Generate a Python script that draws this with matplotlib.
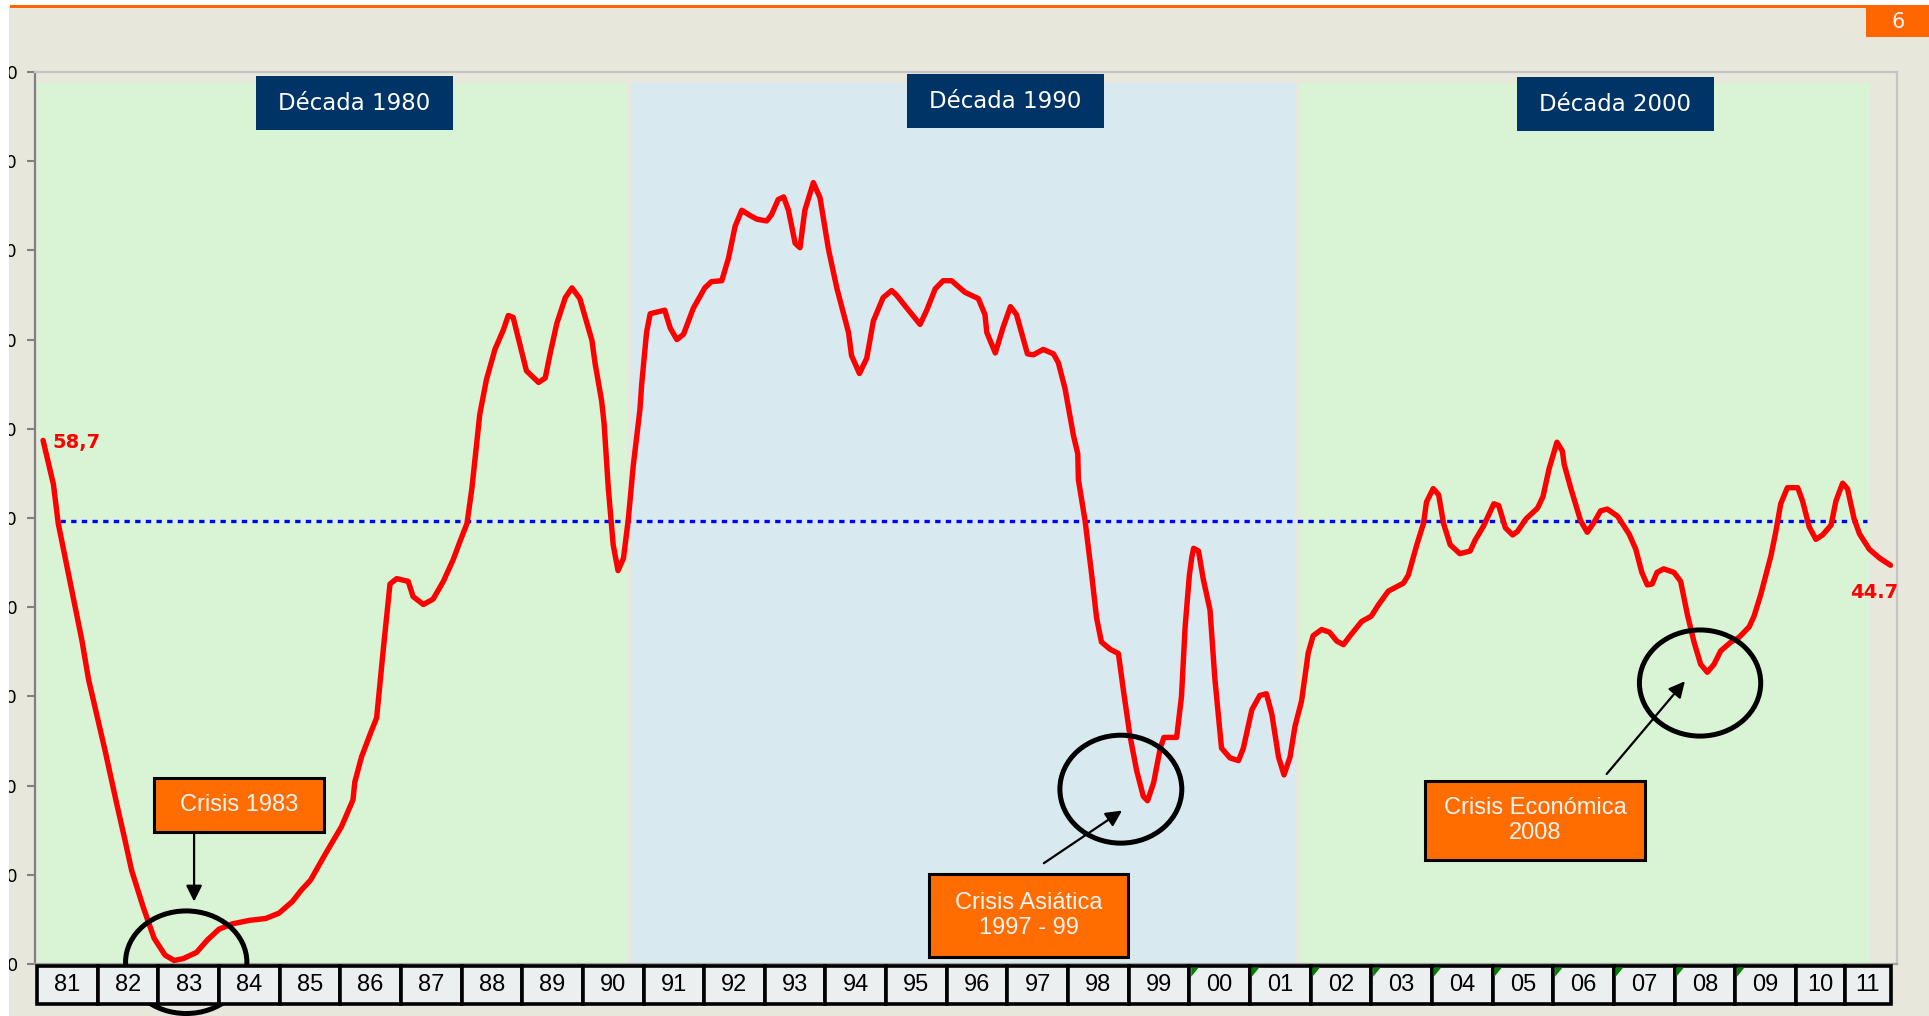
import matplotlib
matplotlib.use('Agg')
import matplotlib.pyplot as plt
from matplotlib.patches import Rectangle, Ellipse, Polygon
from matplotlib.transforms import blended_transform_factory

# index (x = position in years, y = index value)
t = [1981.10, 1981.27, 1981.35, 1981.74, 1981.85, 1982.12, 1982.30, 1982.45, 1982.56, 1982.75,
     1982.93, 1983.11, 1983.26, 1983.41, 1983.63, 1983.81, 1984.00, 1984.22, 1984.51, 1984.77,
     1984.99, 1985.21, 1985.36, 1985.51, 1985.76, 1986.02, 1986.21, 1986.24, 1986.35, 1986.50,
     1986.60, 1986.71, 1986.82, 1986.93, 1987.12, 1987.20, 1987.37, 1987.53, 1987.70, 1987.86,
     1987.97, 1988.09, 1988.17, 1988.30, 1988.41, 1988.55, 1988.69, 1988.77, 1988.85, 1989.07,
     1989.27, 1989.38, 1989.46, 1989.57, 1989.71, 1989.82, 1989.95, 1990.15, 1990.20, 1990.31,
     1990.35, 1990.42, 1990.50, 1990.58, 1990.67, 1990.75, 1990.83, 1990.94, 1990.97, 1991.05,
     1991.11, 1991.35, 1991.44, 1991.55, 1991.66, 1991.82, 1992.01, 1992.12, 1992.29, 1992.40,
     1992.51, 1992.62, 1992.76, 1992.87, 1993.03, 1993.11, 1993.22, 1993.31, 1993.39, 1993.50,
     1993.58, 1993.66, 1993.80, 1993.91, 1994.05, 1994.19, 1994.38, 1994.43, 1994.56, 1994.68,
     1994.79, 1994.95, 1995.09, 1995.17, 1995.31, 1995.56, 1995.67, 1995.81, 1995.94, 1996.08,
     1996.30, 1996.52, 1996.63, 1996.66, 1996.80, 1996.93, 1997.05, 1997.15, 1997.33, 1997.43,
     1997.59, 1997.76, 1997.84, 1997.95, 1998.09, 1998.16, 1998.17, 1998.28, 1998.39, 1998.47,
     1998.55, 1998.69, 1998.83, 1998.91, 1999.02, 1999.13, 1999.24, 1999.31, 1999.41, 1999.52,
     1999.58, 1999.79, 1999.82, 1999.87, 1999.93, 2000.00, 2000.04, 2000.07, 2000.15, 2000.23,
     2000.34, 2000.42, 2000.53, 2000.67, 2000.81, 2000.89, 2001.03, 2001.16, 2001.27, 2001.36,
     2001.47, 2001.56, 2001.66, 2001.74, 2001.85, 2001.96, 2002.04, 2002.18, 2002.31, 2002.43,
     2002.54, 2002.65, 2002.84, 2003.00, 2003.11, 2003.28, 2003.53, 2003.61, 2003.75, 2003.86,
     2003.91, 2004.02, 2004.11, 2004.19, 2004.30, 2004.46, 2004.63, 2004.71, 2004.85, 2005.02,
     2005.10, 2005.21, 2005.33, 2005.41, 2005.55, 2005.74, 2005.83, 2005.93, 2006.06, 2006.15,
     2006.18, 2006.29, 2006.45, 2006.56, 2006.67, 2006.78, 2006.89, 2007.06, 2007.25, 2007.36,
     2007.46, 2007.55, 2007.63, 2007.71, 2007.82, 2007.99, 2008.10, 2008.21, 2008.32, 2008.43,
     2008.54, 2008.65, 2008.76, 2008.93, 2009.06, 2009.23, 2009.31, 2009.42, 2009.59, 2009.67,
     2009.75, 2009.86, 2010.03, 2010.11, 2010.22, 2010.33, 2010.44, 2010.58, 2010.66, 2010.77,
     2010.85, 2010.96, 2011.05, 2011.21, 2011.38, 2011.56]
v = [58.7, 53.8, 49.4, 36.3, 31.9, 24.0, 18.4, 13.9, 10.5, 6.4,
     2.9, 1.0, 0.4, 0.6, 1.3, 2.7, 3.9, 4.5, 4.9, 5.1,
     5.7, 7.0, 8.3, 9.4, 12.4, 15.4, 18.4, 20.4, 23.2, 25.9,
     27.6, 35.3, 42.6, 43.2, 42.9, 41.2, 40.3, 40.9, 42.9, 45.3,
     47.3, 49.4, 53.3, 61.6, 65.5, 68.9, 71.1, 72.7, 72.5, 66.5,
     65.2, 65.7, 68.4, 71.8, 74.7, 75.8, 74.6, 69.9, 67.4, 63.1,
     60.6, 53.3, 47.0, 44.1, 45.5, 49.9, 55.8, 62.1, 65.0, 70.8,
     72.9, 73.3, 71.3, 70.0, 70.6, 73.5, 75.8, 76.5, 76.6, 79.1,
     82.7, 84.5, 83.9, 83.5, 83.3, 84.0, 85.7, 86.0, 84.5, 80.8,
     80.3, 84.5, 87.6, 85.9, 80.1, 75.7, 70.8, 68.2, 66.2, 67.9,
     72.1, 74.7, 75.5, 75.0, 73.8, 71.7, 73.3, 75.7, 76.6, 76.6,
     75.3, 74.6, 72.8, 70.8, 68.5, 71.4, 73.7, 72.8, 68.4, 68.3,
     68.9, 68.4, 67.4, 64.5, 59.2, 57.2, 54.3, 49.7, 43.6, 38.8,
     36.1, 35.3, 34.8, 30.8, 25.6, 21.7, 18.8, 18.3, 20.3, 24.2,
     25.4, 25.4, 27.1, 30.0, 37.8, 43.6, 45.6, 46.6, 46.3, 43.1,
     39.7, 32.0, 24.2, 23.1, 22.8, 24.2, 28.5, 30.1, 30.3, 28.0,
     23.2, 21.2, 23.2, 26.6, 29.5, 34.9, 36.8, 37.5, 37.2, 36.2,
     35.8, 36.8, 38.4, 39.0, 40.2, 41.8, 42.7, 43.6, 47.0, 49.4,
     51.8, 53.3, 52.6, 49.4, 47.0, 46.0, 46.3, 47.5, 49.1, 51.6,
     51.4, 48.9, 48.1, 48.5, 49.9, 51.1, 52.4, 55.5, 58.5, 57.5,
     56.0, 53.3, 49.7, 48.4, 49.5, 50.8, 51.0, 50.2, 48.2, 46.5,
     43.9, 42.5, 42.6, 43.9, 44.3, 43.9, 42.9, 39.2, 36.1, 33.6,
     32.7, 33.6, 35.1, 36.1, 36.6, 37.8, 39.0, 41.4, 45.8, 48.5,
     51.6, 53.4, 53.4, 51.9, 49.0, 47.6, 48.1, 49.2, 51.9, 53.9,
     53.3, 49.9, 48.2, 46.5, 45.5, 44.7]
average = 49.7
year_labels = ['81', '82', '83', '84', '85', '86', '87', '88', '89', '90',
               '91', '92', '93', '94', '95', '96', '97', '98', '99', '00',
               '01', '02', '03', '04', '05', '06', '07', '08', '09', '10', '11']
decades = ['Década 1980', 'Década 1990', 'Década 2000']
crisis = ['Crisis 1983', 'Crisis Asiática\n1997 - 99', 'Crisis Económica\n2008']

BEIGE = '#E8E7DC'
GREEN = '#D8F4D4'
BLUE = '#D9E9F0'
NAVY = '#003366'
ORANGE = '#FF6D00'
NARROW = 'Liberation Sans'

W, H = 1929, 1016
fig = plt.figure(figsize=(W / 100, H / 100), dpi=100, facecolor=BEIGE)
ax = fig.add_axes([35 / W, (H - 964) / H, (1897 - 35) / W, (964 - 72) / H])
ax.set_facecolor(BEIGE)
ax.set_xlim(1980.967, 2011.667)
ax.set_ylim(0, 100)

for s in ['top', 'right']:
    ax.spines[s].set_color('#C4C4C4')
    ax.spines[s].set_linewidth(1.6)
ax.spines['left'].set_color('#808080')
ax.spines['left'].set_linewidth(1.6)
ax.spines['bottom'].set_color('#A0A0A0')
ax.spines['bottom'].set_linewidth(1.6)
ax.set_xticks([])
ax.set_yticks(range(0, 101, 10))
ax.tick_params(axis='y', length=6, width=1.5, color='#808080', pad=6.5, labelsize=13)

# decade shading
spans = [(1981.0, 1990.75, GREEN), (1990.80, 2001.76, BLUE), (2001.82, 2011.21, GREEN)]
for x0, x1, c in spans:
    ax.axvspan(x0, x1, ymin=0, ymax=0.9877, color=c, lw=0, zorder=0)

# average and index
ax.plot([1981.38, 2011.17], [average, average], color='#0000FF', lw=2.4,
        linestyle=(0, (1.6, 1.6)), zorder=3)
ax.plot(t, v, color='#FF0000', lw=3.9, solid_joinstyle='round', solid_capstyle='round', zorder=4)

ax.text(1981.26, 58.5, f'{v[0]:.1f}'.replace('.', ','), color='#FF0000', fontsize=14,
        fontweight='bold', ha='left', va='center', zorder=6)
ax.text(2010.89, 41.6, f'{v[-1]:.1f}', color='#FF0000', fontsize=14,
        fontweight='bold', ha='left', va='center', zorder=6, clip_on=False)

# decade labels
dec_pos = [(1984.61, 93.5), (1995.34, 93.7), (2005.40, 93.4)]
for (x0, y0), lab in zip(dec_pos, decades):
    ax.add_patch(Rectangle((x0, y0), 3.25, 6.05, facecolor=NAVY, edgecolor='none', zorder=5))
    ax.text(x0 + 1.625, y0 + 3.0, lab, color='white', fontsize=16.5, ha='center', va='center', zorder=6)

# crisis boxes
box_pos = [(1982.93, 14.8, 2.80, 6.05), (1995.71, 0.78, 3.28, 9.31), (2003.89, 11.66, 3.62, 8.85)]
for (x0, y0, w, h), lab in zip(box_pos, crisis):
    ax.add_patch(Rectangle((x0, y0), w, h, facecolor=ORANGE, edgecolor='black', lw=2.2, zorder=5))
    ax.text(x0 + w / 2, y0 + h / 2, lab, color='#F4F4F4', fontsize=17, family=NARROW,
            ha='center', va='center', linespacing=1.15, zorder=6)

# circles and arrows
for cx, cy, w, h in [(1983.46, 0.2, 2.0, 11.5), (1998.87, 19.6, 2.01, 12.1), (2008.42, 31.5, 2.0, 11.9)]:
    ax.add_patch(Ellipse((cx, cy), w, h, fill=False, edgecolor='black', lw=3.6, zorder=5, clip_on=False))
arrows = [((1983.59, 14.8), (1983.59, 7.0)), ((1997.60, 11.3), (1998.89, 17.2)),
          ((2006.88, 21.3), (2008.17, 31.7))]
for tail, tip in arrows:
    ax.annotate('', xy=tip, xytext=tail, annotation_clip=False, zorder=6,
                arrowprops=dict(arrowstyle='-|>', color='black', lw=1.6, mutation_scale=24,
                                shrinkA=0, shrinkB=0))

# year boxes under the axis
tr = blended_transform_factory(ax.transData, ax.transAxes)
widths = [1.0] * 29 + [0.81, 0.75]
x0 = 1981.0
top, bot = -0.0022, -0.0448
for lab, w in zip(year_labels, widths):
    ax.add_patch(Rectangle((x0, bot), w, top - bot, transform=tr, facecolor='#ECEFF0',
                           edgecolor='black', lw=2.6, clip_on=False, zorder=5))
    ax.text(x0 + w / 2, (top + bot) / 2, lab, transform=tr, fontsize=17, family=NARROW,
            ha='center', va='center', clip_on=False, zorder=6)
    if lab in ['00', '01', '02', '03', '04', '05', '06', '07', '08', '09']:
        ax.add_patch(Polygon([(x0 + 0.03, top - 0.002), (x0 + 0.15, top - 0.002), (x0 + 0.03, top - 0.012)],
                             closed=True, transform=tr, facecolor='#008000', edgecolor='none',
                             clip_on=False, zorder=7))
    x0 += w

# page frame: white margin, orange rule and page number
fig.add_artist(Rectangle((0, 0), 9 / W, 1, transform=fig.transFigure, facecolor='white',
                         edgecolor='none', zorder=10))
fig.add_artist(Rectangle((0, (H - 5) / H), 1, 5 / H, transform=fig.transFigure, facecolor='white',
                         edgecolor='none', zorder=10))
fig.add_artist(Rectangle((10 / W, (H - 7.5) / H), 1, 2.5 / H, transform=fig.transFigure,
                         facecolor='#FF6600', edgecolor='none', zorder=11))
fig.add_artist(Rectangle((1866 / W, (H - 37) / H), 63 / W, 32 / H, transform=fig.transFigure,
                         facecolor='#FF6600', edgecolor='none', zorder=11))
fig.text(1898 / W, (H - 22) / H, '6', color='#F4F4F4', fontsize=15, ha='center', va='center', zorder=12)

fig.savefig('out.png', dpi=100, facecolor=BEIGE)
